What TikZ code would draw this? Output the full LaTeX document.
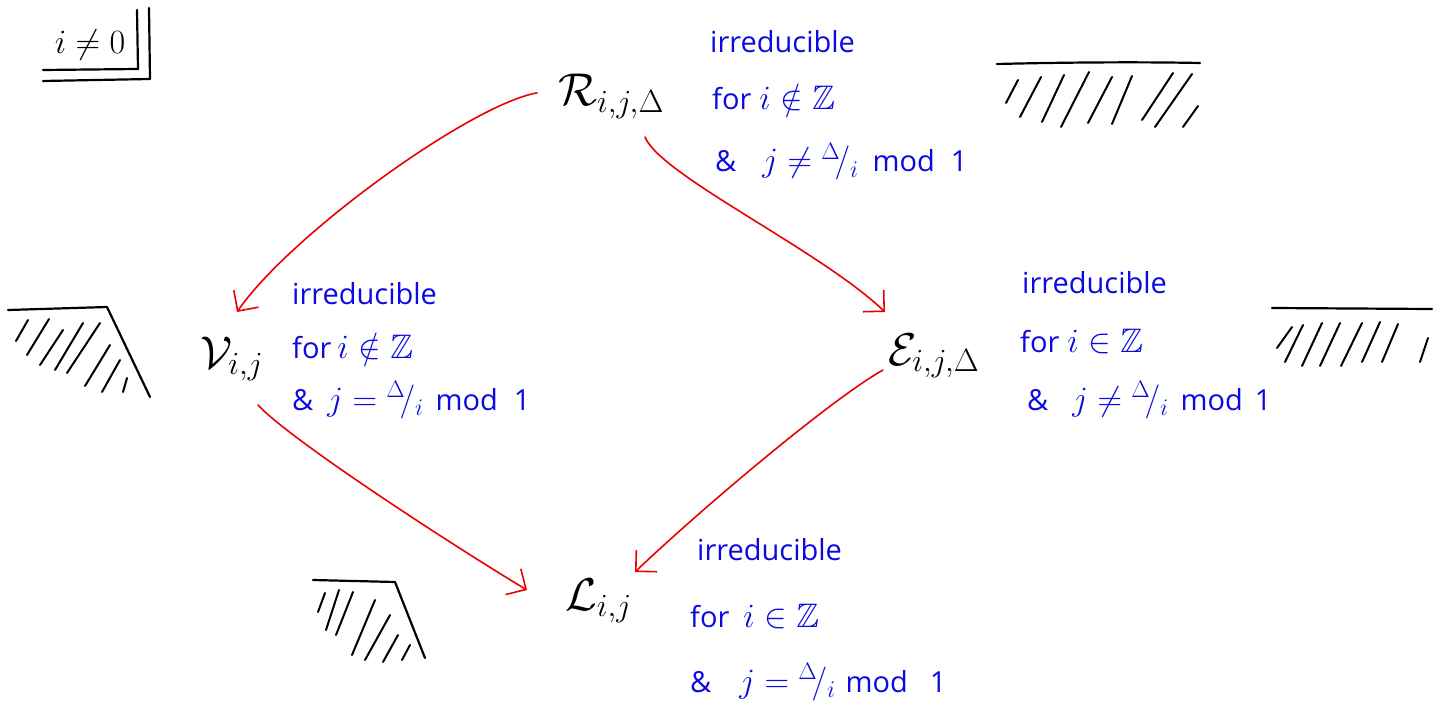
\RequirePackage{fix-cm}
\documentclass[tikz,border=0pt]{standalone}
\usepackage{amssymb}
\usepackage{fontspec}
\setmainfont{Open Sans}
\usetikzlibrary{arrows.meta,calc}
\definecolor{pen}{RGB}{10,10,225}
\definecolor{redpen}{RGB}{235,0,0}
\newcommand{\penmath}[1]{{\fontsize{34}{38}\selectfont$#1$}}
\begin{document}
\begin{tikzpicture}[x=1pt,y=-1pt,
  stroke/.style={line width=2.2pt,line cap=round,line join=round,black},
  hatchline/.style={line width=2pt,line cap=round,black},
  redarr/.style={draw=redpen,line width=1.6pt,line cap=round,
    -{Straight Barb[length=15pt,width=30pt,line width=1.6pt]}},
  mainlbl/.style={font=\fontsize{46}{50}\selectfont,inner sep=0pt,anchor=base west},
  bluetxt/.style={text=pen,font=\fontsize{29}{33}\selectfont,inner sep=0pt,anchor=base west}]
\useasboundingbox (0,0) rectangle (1447,708);

% i != 0 box
\node[font=\fontsize{34}{38}\selectfont,inner sep=0pt] (ineq) at (90,45) {$i\neq0$};
\draw[stroke] (43,70) -- (138,69) -- (137,10);
\draw[stroke] (43,81) -- (150,79) -- (149,8);

% main nodes
\node[mainlbl] (R) at (558,106) {$\mathcal{R}_{i,j,\Delta}$};
\node[mainlbl] (V) at (200,368) {$\mathcal{V}_{i,j}$};
\node[mainlbl] (E) at (888,365) {$\mathcal{E}_{i,j,\Delta}$};
\node[mainlbl] (L) at (565,610) {$\mathcal{L}_{i,j}$};

% blue texts
\node[bluetxt] (r1) at (710,53) {irreducible};
\node[bluetxt] (r2) at (712,110) {for\hspace{8pt}\penmath{i\notin\mathbb{Z}}};
\node[bluetxt] (r3) at (715,172) {\&\hspace{26pt}\penmath{j\neq{}^{\Delta}\!/_{i}}\hspace{14pt}mod\hspace{16pt}1};

\node[bluetxt] (v1) at (292,305) {irreducible};
\node[bluetxt] (v2) at (292,358) {for\hspace{6pt}\penmath{i\notin\mathbb{Z}}};
\node[bluetxt] (v3) at (292,410) {\&\hspace{14pt}\penmath{j={}^{\Delta}\!/_{i}}\hspace{12pt}mod\hspace{16pt}1};

\node[bluetxt] (e1) at (1022,294) {irreducible};
\node[bluetxt] (e2) at (1020,352) {for\hspace{8pt}\penmath{i\in\mathbb{Z}}};
\node[bluetxt] (e3) at (1027,410) {\&\hspace{24pt}\penmath{j\neq{}^{\Delta}\!/_{i}}\hspace{12pt}mod\hspace{12pt}1};

\node[bluetxt] (l1) at (697,560) {irreducible};
\node[bluetxt] (l2) at (690,627) {for\hspace{14pt}\penmath{i\in\mathbb{Z}}};
\node[bluetxt] (l3) at (690,692) {\&\hspace{28pt}\penmath{j={}^{\Delta}\!/_{i}}\hspace{10pt}mod\hspace{22pt}1};

% arrows
\draw[redarr] ($(R.west)+(-21,-4)$) .. controls (470,105) and (290,235) .. (237,312);
\draw[redarr] (645,137) .. controls (660,175) and (820,250) .. (885,312);
\draw[redarr] (258,405) .. controls (290,440) and (460,550) .. (527,590);
\draw[redarr] (883,370) .. controls (830,400) and (700,510) .. (635,572);

% hatch top right
\draw[stroke] (997,64) .. controls (1080,62) and (1150,62) .. (1200,63);
\foreach \a/\b in {{1018,80}/{1006,103},{1041,77}/{1020,117},{1064,75}/{1042,122},{1089,72}/{1061,127},{1112,77}/{1088,123},{1132,76}/{1112,124},{1173,73}/{1142,120},{1192,74}/{1155,127},{1198,106}/{1183,127}}
  \draw[hatchline] (\a) -- (\b);

% hatch left
\draw[stroke] (8,310) -- (107,307) -- (150,397);
\foreach \a/\b in {{28,320}/{16,341},{49,319}/{27,355},{63,330}/{40,365},{83,323}/{55,370},{100,323}/{67,373},{110,345}/{85,386},{120,360}/{102,392},{127,378}/{123,392}}
  \draw[hatchline] (\a) -- (\b);

% hatch right
\draw[stroke] (1272,308) -- (1432,309);
\foreach \a/\b in {{1292,327}/{1277,348},{1303,325}/{1285,362},{1322,323}/{1302,366},{1340,323}/{1320,366},{1362,323}/{1341,366},{1380,322}/{1362,362},{1398,324}/{1382,362},{1428,338}/{1420,362}}
  \draw[hatchline] (\a) -- (\b);

% hatch bottom
\draw[stroke] (313,580) -- (395,582) -- (425,658);
\foreach \a/\b in {{325,593}/{318,612},{339,590}/{326,630},{353,592}/{336,635},{375,600}/{352,655},{390,615}/{365,660},{398,635}/{383,662},{410,645}/{402,660}}
  \draw[hatchline] (\a) -- (\b);
\end{tikzpicture}
\end{document}
